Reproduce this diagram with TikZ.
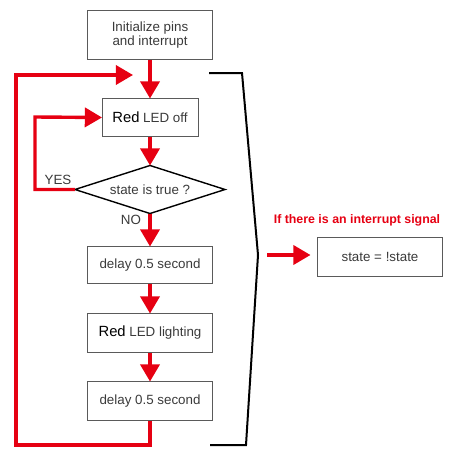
\documentclass[tikz,border=0pt]{standalone}
\usepackage{fontspec}
\setmainfont{Liberation Sans}
\usetikzlibrary{positioning,arrows.meta,shapes.geometric}
\definecolor{flowred}{HTML}{E60012}
\definecolor{boxline}{HTML}{5A5A5A}
\definecolor{boxtext}{HTML}{3A3A3A}
\newcommand{\redword}{{\color{black}\fontsize{10.5}{12}\selectfont Red}}

\begin{document}
\begin{tikzpicture}[
    x=0.25mm, y=-0.25mm,
    box/.style={draw=boxline, line width=0.25mm, minimum width=31mm, minimum height=9.5mm, align=center, inner sep=1mm, outer sep=0pt, text=boxtext, font=\fontsize{9.5}{10.5}\selectfont},
    cond/.style={diamond, draw=black, line width=0.35mm, aspect=3.1, minimum width=37.5mm, minimum height=12mm, inner sep=0pt, outer sep=0pt, text=boxtext, font=\fontsize{9.5}{10.5}\selectfont},
    arr/.style={-{Triangle[length=4.3mm, width=4.8mm]}, line width=0.85mm, draw=flowred},
    lbl/.style={text=boxtext, font=\fontsize{9.5}{10.5}\selectfont},
    brace/.style={draw=black, line width=0.5mm}
]
    \useasboundingbox (0,0) rectangle (450,458);

    % main chain
    \node[box, minimum height=12.25mm] (init) at (150,35) {Initialize pins\\and interrupt};
    \node[box, minimum width=24mm, below=9.75mm of init] (ledoff) {\redword{} LED off};
    \node[cond, below=7.25mm of ledoff] (dia) {state is true ?};
    \node[box, minimum height=9.25mm, below=8.25mm of dia] (delay1) {delay 0.5 second};
    \node[box, minimum height=9.75mm, below=7.5mm of delay1] (ledon) {\redword{} LED lighting};
    \node[box, minimum height=9.75mm, below=7.25mm of ledon] (delay2) {delay 0.5 second};

    \draw[arr] (init) -- (ledoff);
    \draw[arr] (ledoff) -- (dia);
    \draw[arr] (dia) -- (delay1);
    \draw[arr] (delay1) -- (ledon);
    \draw[arr] (ledon) -- (delay2);

    % YES branch
    \coordinate (yesx) at (35,117);
    \draw[arr] (dia.west) -| (yesx) -- (ledoff.west);
    \node[lbl] (yes) at (58,180) {YES};
    \node[lbl] (no) at (131,220) {NO};

    % outer loop
    \coordinate (loopbot) at (16,445);
    \coordinate (loopin) at (133,75);
    \draw[arr] (delay2.south) |- (loopbot) |- (loopin);

    % interrupt bracket
    \coordinate (brtip) at (258,255);
    \draw[brace] (209,73) -- (242,73) -- (brtip) -- (246,445) -- (210,445);

    \node[box, minimum width=31.25mm, minimum height=9.75mm] (state) at (380,257) {state = !state};
    \node[text=flowred, font=\fontsize{8.8}{10}\selectfont\bfseries] (sig) at (357,220) {If there is an interrupt signal};
    \coordinate (sigin) at (267,255);
    \draw[arr, shorten >=1.75mm] (sigin) -- (sigin -| state.west);
\end{tikzpicture}
\end{document}
